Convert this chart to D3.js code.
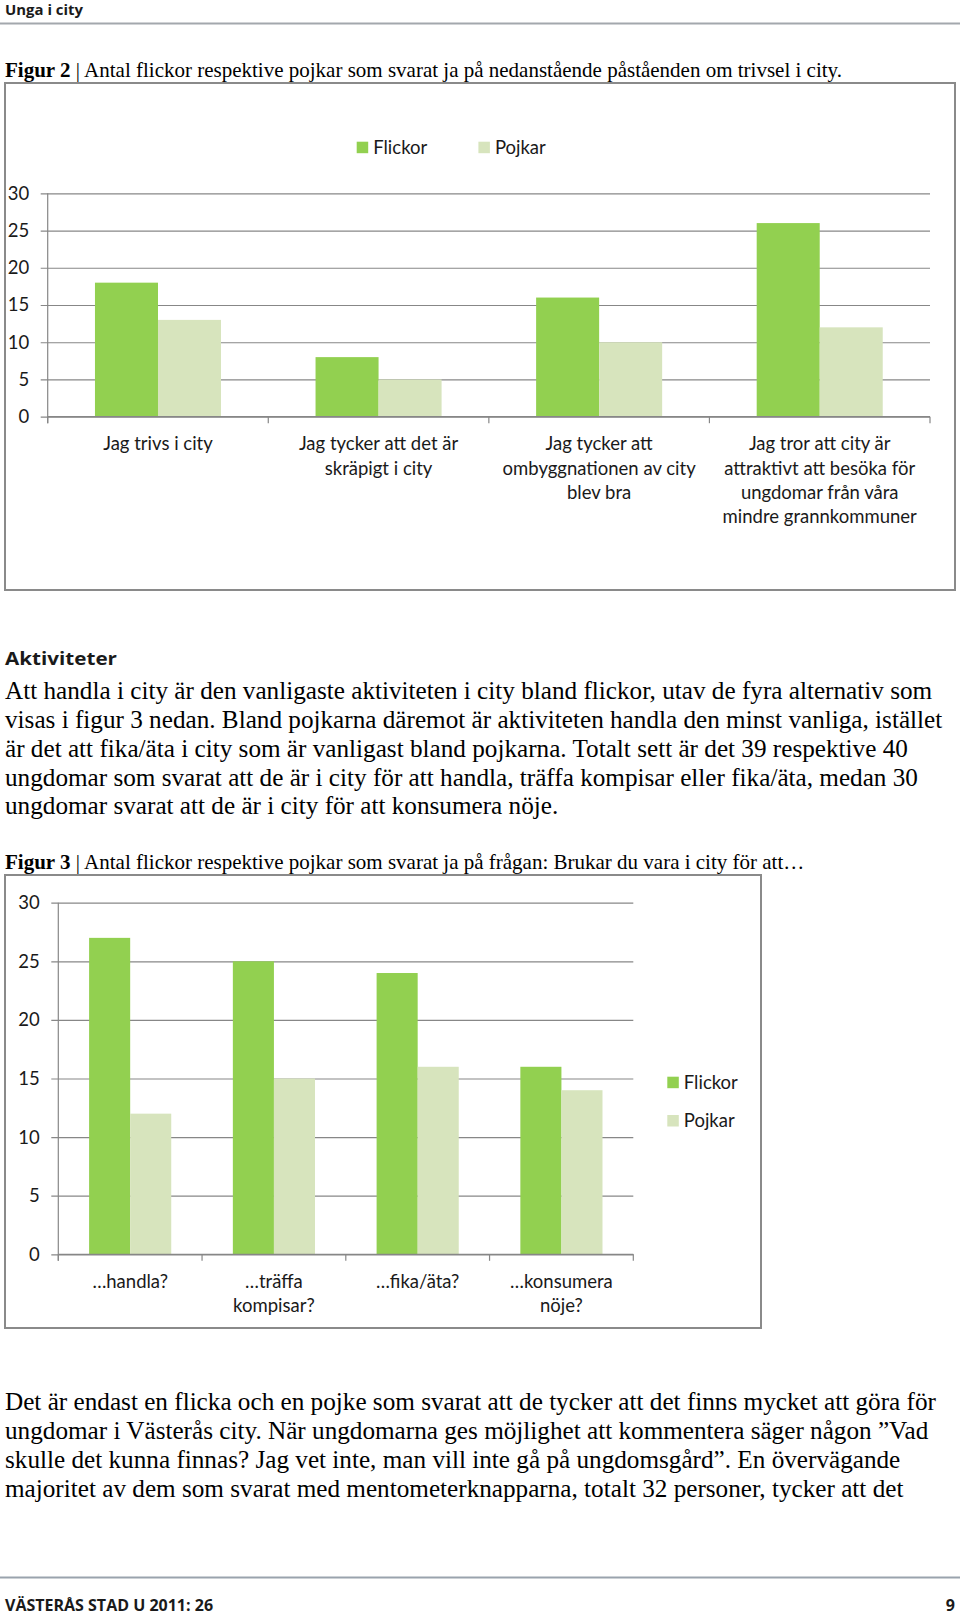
<!DOCTYPE html>
<html>
<head>
<meta charset="utf-8">
<script src="https://d3js.org/d3.v7.min.js"></script>
<style>
  body { margin: 0; background: #fff; }
  svg { display: block; }
</style>
</head>
<body>
<script>
// Series and categories
var seriesNames = ["Flickor", "Pojkar"];
var seriesColors = ["#92d050", "#d7e4bd"];
var yTicks = [0, 5, 10, 15, 20, 25, 30];

// Figur 2
var fig2Categories = [
    ["Jag trivs i city"],
    ["Jag tycker att det är", "skräpigt i city"],
    ["Jag tycker att", "ombyggnationen av city", "blev bra"],
    ["Jag tror att city är", "attraktivt att besöka för", "ungdomar från våra", "mindre grannkommuner"]
];
var fig2Flickor = [18, 8, 16, 26];
var fig2Pojkar = [13, 5, 10, 12];

// Figur 3
var fig3Categories = [
    ["…handla?"],
    ["…träffa", "kompisar?"],
    ["…fika/äta?"],
    ["…konsumera", "nöje?"]
];
var fig3Flickor = [27, 25, 24, 16];
var fig3Pojkar = [12, 15, 16, 14];

// Body text
var para1 = [
    "Att handla i city är den vanligaste aktiviteten i city bland flickor, utav de fyra alternativ som",
    "visas i figur 3 nedan. Bland pojkarna däremot är aktiviteten handla den minst vanliga, istället",
    "är det att fika/äta i city som är vanligast bland pojkarna. Totalt sett är det 39 respektive 40",
    "ungdomar som svarat att de är i city för att handla, träffa kompisar eller fika/äta, medan 30",
    "ungdomar svarat att de är i city för att konsumera nöje."
];
var para2 = [
    "Det är endast en flicka och en pojke som svarat att de tycker att det finns mycket att göra för",
    "ungdomar i Västerås city. När ungdomarna ges möjlighet att kommentera säger någon ”Vad",
    "skulle det kunna finnas? Jag vet inte, man vill inte gå på ungdomsgård”. En övervägande",
    "majoritet av dem som svarat med mentometerknapparna, totalt 32 personer, tycker att det"
];

var W = 960, H = 1616;
var serif = "'Liberation Serif', 'Times New Roman', serif";
var chartFont = "Lato, 'Open Sans', sans-serif";
var headFont = "'Open Sans', 'Noto Sans', sans-serif";

var svg = d3.select("body").append("svg")
    .attr("width", W)
    .attr("height", H);

svg.append("rect").attr("width", W).attr("height", H).attr("fill", "#fff");

// Header
svg.append("text")
    .attr("x", 5).attr("y", 15)
    .style("font-family", headFont).style("font-weight", 700).style("font-size", "14px")
    .attr("fill", "#1a1a1a")
    .attr("textLength", 78).attr("lengthAdjust", "spacingAndGlyphs")
    .text("Unga i city");
svg.append("line")
    .attr("x1", 0).attr("x2", W).attr("y1", 23.5).attr("y2", 23.5)
    .attr("stroke", "#a3a8ad").attr("stroke-width", 2);

// Captions
function caption(y, num, rest) {
    var t = svg.append("text")
        .attr("x", 5).attr("y", y)
        .style("font-family", serif).style("font-size", "21px")
        .attr("fill", "#000");
    t.append("tspan").style("font-weight", 700).text("Figur " + num);
    t.append("tspan").text(" | " + rest);
}
caption(77, 2, "Antal flickor respektive pojkar som svarat ja på nedanstående påståenden om trivsel i city.");
caption(869, 3, "Antal flickor respektive pojkar som svarat ja på frågan: Brukar du vara i city för att…");

// Paragraphs
function paragraph(lines, y0) {
    svg.append("g").selectAll("text")
        .data(lines)
        .enter().append("text")
        .attr("x", 5)
        .attr("y", function(d, i) { return y0 + i * 28.85; })
        .style("font-family", serif).style("font-size", "25.2px")
        .attr("fill", "#000")
        .text(function(d) { return d; });
}

svg.append("text")
    .attr("x", 5).attr("y", 665)
    .style("font-family", headFont).style("font-weight", 700).style("font-size", "18.6px")
    .attr("fill", "#1a1a1a")
    .attr("textLength", 112).attr("lengthAdjust", "spacingAndGlyphs")
    .text("Aktiviteter");

paragraph(para1, 699);
paragraph(para2, 1410);

// Grouped bar chart
function drawChart(cfg, categories, flickor, pojkar) {
    var g = svg.append("g");

    // Chart frame
    g.append("rect")
        .attr("x", cfg.box[0]).attr("y", cfg.box[1])
        .attr("width", cfg.box[2] - cfg.box[0]).attr("height", cfg.box[3] - cfg.box[1])
        .attr("fill", "#fff").attr("stroke", "#8a8a8a").attr("stroke-width", 2);

    var y = d3.scaleLinear().domain([0, 30]).range([cfg.y0, cfg.y30]);
    var x = d3.scaleBand().domain(d3.range(categories.length)).range([cfg.x0, cfg.x1]);
    // Excel style 150% gap width
    var xs = d3.scaleBand().domain(seriesNames).range([0, x.bandwidth()]).paddingInner(0).paddingOuter(0.75);

    // Gridlines + y labels
    var yAxis = g.append("g")
        .attr("transform", "translate(" + (cfg.x0 - 7) + ",0)")
        .call(d3.axisLeft(y).tickValues(yTicks).tickSize(-(cfg.x1 - cfg.x0 + 7)).tickPadding(11.5));
    yAxis.select(".domain").remove();
    yAxis.selectAll("line").attr("stroke", "#878787").attr("stroke-width", 1.2);
    yAxis.selectAll("text")
        .style("font-family", chartFont).style("font-size", "18.5px")
        .attr("fill", "#1a1a1a");

    // Bars
    var rows = categories.map(function(c, i) {
        return { i: i, values: [flickor[i], pojkar[i]] };
    });
    g.selectAll(".grp")
        .data(rows)
        .enter().append("g")
        .attr("transform", function(d) { return "translate(" + x(d.i) + ",0)"; })
        .selectAll("rect")
        .data(function(d) { return d.values.map(function(v, k) { return { k: k, v: v }; }); })
        .enter().append("rect")
        .attr("x", function(d) { return xs(seriesNames[d.k]); })
        .attr("width", xs.bandwidth())
        .attr("y", function(d) { return y(d.v); })
        .attr("height", function(d) { return y(0) - y(d.v); })
        .attr("fill", function(d) { return seriesColors[d.k]; });

    // Axis lines and category ticks
    g.append("line")
        .attr("x1", cfg.x0).attr("x2", cfg.x0)
        .attr("y1", y(30)).attr("y2", y(0) + 6.5)
        .attr("stroke", "#878787").attr("stroke-width", 1.2);
    g.append("line")
        .attr("x1", cfg.x0).attr("x2", cfg.x1)
        .attr("y1", y(0)).attr("y2", y(0))
        .attr("stroke", "#878787").attr("stroke-width", 1.2);
    var edges = x.domain().map(function(d) { return x(d); }).concat([cfg.x1]);
    g.selectAll(".xtick")
        .data(edges)
        .enter().append("line")
        .attr("x1", function(d) { return d; }).attr("x2", function(d) { return d; })
        .attr("y1", y(0)).attr("y2", y(0) + 6.5)
        .attr("stroke", "#878787").attr("stroke-width", 1.2);

    // Category labels
    g.selectAll(".xlabel")
        .data(categories)
        .enter().append("text")
        .attr("text-anchor", "middle")
        .style("font-family", chartFont).style("font-size", "18.5px")
        .attr("fill", "#1a1a1a")
        .each(function(lines, i) {
            var t = d3.select(this);
            lines.forEach(function(line, j) {
                t.append("tspan")
                    .attr("x", x(i) + x.bandwidth() / 2)
                    .attr("y", y(0) + 33.5 + j * 24.4)
                    .text(line);
            });
        });

    // Legend
    var leg = g.selectAll(".legend")
        .data(seriesNames)
        .enter().append("g")
        .attr("transform", function(d, i) { return "translate(" + cfg.legend[i][0] + "," + cfg.legend[i][1] + ")"; });
    leg.append("rect")
        .attr("width", 11.5).attr("height", 11.5)
        .attr("fill", function(d, i) { return seriesColors[i]; });
    leg.append("text")
        .attr("x", 16.5).attr("y", 12.3)
        .style("font-family", chartFont).style("font-size", "18.5px")
        .attr("fill", "#1a1a1a")
        .text(function(d) { return d; });
}

drawChart({
    box: [5, 83, 955, 590],
    x0: 47.7, x1: 930, y0: 416.7, y30: 193.3,
    legend: [[356.7, 141.7], [478.4, 141.7]]
}, fig2Categories, fig2Flickor, fig2Pojkar);

drawChart({
    box: [5, 875, 761, 1328],
    x0: 58.3, x1: 633.3, y0: 1254.3, y30: 902.7,
    legend: [[667.3, 1076.7], [667.3, 1115]]
}, fig3Categories, fig3Flickor, fig3Pojkar);

// Footer
svg.append("line")
    .attr("x1", 0).attr("x2", W).attr("y1", 1577.5).attr("y2", 1577.5)
    .attr("stroke", "#9aa3ad").attr("stroke-width", 2);
svg.append("text")
    .attr("x", 5).attr("y", 1611)
    .style("font-family", headFont).style("font-weight", 700).style("font-size", "16px")
    .attr("fill", "#1a1a1a")
    .text("VÄSTERÅS STAD U 2011: 26");
svg.append("text")
    .attr("x", 955).attr("y", 1611)
    .attr("text-anchor", "end")
    .style("font-family", headFont).style("font-weight", 700).style("font-size", "16px")
    .attr("fill", "#1a1a1a")
    .text("9");
</script>
</body>
</html>
